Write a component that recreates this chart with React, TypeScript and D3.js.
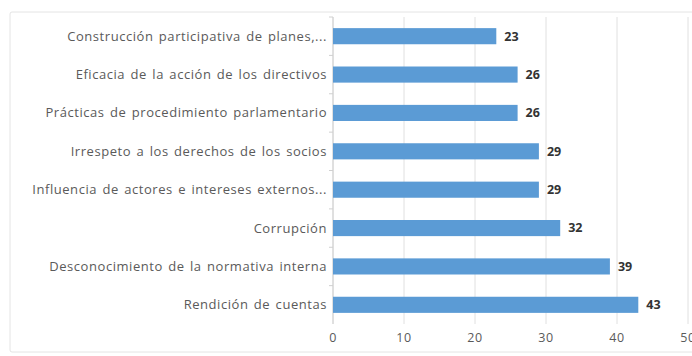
import React from "react";
import * as d3 from "d3";

const categories = [
  "Construcción participativa de planes,...",
  "Eficacia de la acción de los directivos",
  "Prácticas de procedimiento parlamentario",
  "Irrespeto a los derechos de los socios",
  "Influencia de actores e intereses externos...",
  "Corrupción",
  "Desconocimiento de la normativa interna",
  "Rendición de cuentas",
];
const values = [23, 26, 26, 29, 29, 32, 39, 43];
const xTicks = [0, 10, 20, 30, 40, 50];

const W = 692;
const H = 356;
const left = 333;
const right = 688;
const top = 17;
const bottom = 324;

export default function App() {
  const x = d3.scaleLinear().domain([0, 50]).range([left, right]);
  const y = d3
    .scaleBand<string>()
    .domain(categories)
    .range([top, bottom])
    .paddingInner(0.58)
    .paddingOuter(0.29);
  const bw = y.bandwidth();
  const font = "'Open Sans', Arial, sans-serif";
  return (
    <svg
      width={W}
      height={H}
      style={{ position: "absolute", left: 0, top: 0, background: "#fff" }}
    >
      <rect x={10} y={12} width={W + 10} height={340} fill="#fff" stroke="#e4e4e4" strokeWidth={1} rx={2} />
      {xTicks.map((t) => (
        <line key={t} x1={x(t)} x2={x(t)} y1={top} y2={bottom} stroke="#e0e0e0" strokeWidth={1} />
      ))}
      <line x1={left} x2={left} y1={top} y2={bottom} stroke="#d0d0d0" />
      {categories.map((c) => (
        <line key={"tk" + c} x1={left - 4} x2={left} y1={y(c)! + bw / 2 - y.step() / 2} y2={y(c)! + bw / 2 - y.step() / 2} stroke="#d0d0d0" />
      ))}
      {categories.map((c, i) => (
        <g key={c}>
          <rect x={x(0)} y={y(c)!} width={x(values[i]) - x(0)} height={bw} fill="#5B9BD5" />
          <text
            x={x(values[i]) + 8}
            y={y(c)! + bw / 2}
            dy="0.35em"
            fontFamily={font}
            fontWeight="bold"
            fontSize={12.5}
            fill="#333"
          >
            {values[i]}
          </text>
          <text
            x={left - 6}
            y={y(c)! + bw / 2}
            dy="0.35em"
            textAnchor="end"
            fontFamily={font}
            fontSize={13}
            letterSpacing={0.55}
            wordSpacing={1.5}
            fill="#5a5a5a"
          >
            {c}
          </text>
        </g>
      ))}
      {xTicks.map((t) => (
        <text
          key={"l" + t}
          x={x(t)}
          y={338}
          dy="0.35em"
          textAnchor="middle"
          fontFamily={font}
          fontSize={12.5}
          letterSpacing={0.5}
          fill="#5a5a5a"
        >
          {t}
        </text>
      ))}
    </svg>
  );
}
